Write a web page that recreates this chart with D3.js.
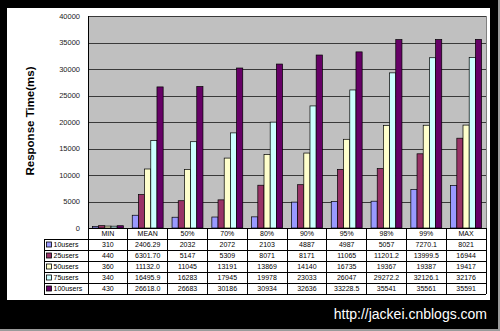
<!DOCTYPE html>
<html>
<head>
<meta charset="utf-8">
<script src="https://cdn.jsdelivr.net/npm/d3@7"></script>
<style>
  body { margin: 0; background: #000; }
  svg { display: block; }
</style>
</head>
<body>
<svg id="chart" width="500" height="331"></svg>
<script>
// percentile labels along the x axis / table header
const categories = ["MIN", "MEAN", "50%", "70%", "80%", "90%", "95%", "98%", "99%", "MAX"];
const seriesNames = ["10users", "25users", "50users", "75users", "100users"];

// values as printed in the data table
const users10 = ["310", "2406.29", "2032", "2072", "2103", "4887", "4987", "5057", "7270.1", "8021"];
const users25 = ["440", "6301.70", "5147", "5309", "8071", "8171", "11065", "11201.2", "13999.5", "16944"];
const users50 = ["360", "11132.0", "11045", "13191", "13869", "14140", "16735", "19367", "19387", "19417"];
const users75 = ["340", "16495.9", "16283", "17945", "19978", "23033", "26047", "29272.2", "32126.1", "32176"];
const users100 = ["430", "26618.0", "26683", "30186", "30934", "32636", "33228.5", "35541", "35561", "35591"];

const yTicks = [0, 5000, 10000, 15000, 20000, 25000, 30000, 35000, 40000];
const colors = ["#9999ff", "#993366", "#ffffcc", "#ccffff", "#660066"];

const seriesValues = [users10, users25, users50, users75, users100];
const series = seriesNames.map((name, i) => ({
    name: name,
    color: colors[i],
    labels: seriesValues[i],
    values: seriesValues[i].map(v => +v)
}));

const svg = d3.select("#chart");

// white panel inside the black frame
svg.append("rect")
    .attr("x", 7).attr("y", 8)
    .attr("width", 483).attr("height", 292)
    .attr("fill", "#fff");

// light edge of the screenshot frame
svg.append("rect").attr("x", 0).attr("y", 329).attr("width", 500).attr("height", 2).attr("fill", "#9a9a9a");
svg.append("rect").attr("x", 498).attr("y", 0).attr("width", 2).attr("height", 331).attr("fill", "#9a9a9a");

const plot = {left: 88, right: 486, top: 16, bottom: 228};

const x = d3.scaleBand()
    .domain(categories)
    .range([plot.left, plot.right]);

const xs = d3.scaleBand()
    .domain(seriesNames)
    .range([0, x.bandwidth()])
    .paddingOuter(0.72);

const y = d3.scaleLinear()
    .domain([0, 40000])
    .range([plot.bottom, plot.top]);

// plot background
svg.append("rect")
    .attr("x", plot.left).attr("y", plot.top)
    .attr("width", plot.right - plot.left)
    .attr("height", plot.bottom - plot.top)
    .attr("fill", "#c0c0c0");

// gridlines
svg.append("g")
    .selectAll("line")
    .data(yTicks)
    .join("line")
    .attr("x1", plot.left)
    .attr("x2", plot.right)
    .attr("y1", d => Math.round(y(d)) + 0.5)
    .attr("y2", d => Math.round(y(d)) + 0.5)
    .attr("stroke", "#3a3a3a")
    .attr("stroke-width", 1);

// right edge of plot
svg.append("line")
    .attr("x1", plot.right + 0.5).attr("x2", plot.right + 0.5)
    .attr("y1", plot.top).attr("y2", plot.bottom)
    .attr("stroke", "#808080");

// bars
const groups = svg.append("g")
    .selectAll("g")
    .data(series)
    .join("g")
    .attr("fill", d => d.color);

groups.selectAll("rect")
    .data(d => d.values.map((v, i) => ({cat: categories[i], value: v, name: d.name})))
    .join("rect")
    .attr("x", d => x(d.cat) + xs(d.name))
    .attr("y", d => y(d.value))
    .attr("width", xs.bandwidth())
    .attr("height", d => y(0) - y(d.value))
    .attr("stroke", "#000")
    .attr("stroke-width", 0.7);

// y axis
const yAxis = svg.append("g")
    .attr("transform", `translate(${plot.left},0)`)
    .call(d3.axisLeft(y)
        .tickValues(yTicks)
        .tickSize(0)
        .tickPadding(8)
        .tickFormat(d3.format("d")));

yAxis.select(".domain").remove();
yAxis.selectAll("text")
    .style("font-family", "'Liberation Sans', Arial, sans-serif")
    .style("font-size", "7.5px")
    .attr("fill", "#222");

svg.append("line")
    .attr("x1", plot.left + 0.5).attr("x2", plot.left + 0.5)
    .attr("y1", plot.top).attr("y2", plot.bottom)
    .attr("stroke", "#000");

svg.append("text")
    .attr("transform", `translate(30,121) rotate(-90)`)
    .attr("text-anchor", "middle")
    .attr("dominant-baseline", "central")
    .style("font-family", "'Liberation Sans', Arial, sans-serif")
    .style("font-size", "11.5px")
    .style("font-weight", "bold")
    .attr("fill", "#000")
    .text("Response Time(ms)");

// data table under the plot
const rows = d3.scaleBand()
    .domain(["header"].concat(seriesNames))
    .range([plot.bottom, 294]);

const legendLeft = 44;
const table = svg.append("g")
    .attr("stroke", "#000")
    .attr("stroke-width", 1)
    .attr("shape-rendering", "crispEdges");

// horizontal lines
rows.domain().forEach((r, i) => {
    const yy = rows(r);
    table.append("line")
        .attr("x1", i === 0 ? plot.left : legendLeft)
        .attr("x2", plot.right)
        .attr("y1", yy).attr("y2", yy);
});
table.append("line")
    .attr("x1", legendLeft).attr("x2", plot.right)
    .attr("y1", 294).attr("y2", 294);

// vertical lines
categories.concat(["end"]).forEach(c => {
    const xx = c === "end" ? plot.right : x(c);
    table.append("line")
        .attr("x1", xx).attr("x2", xx)
        .attr("y1", plot.bottom).attr("y2", 294);
});
table.append("line")
    .attr("x1", legendLeft).attr("x2", legendLeft)
    .attr("y1", rows(seriesNames[0])).attr("y2", 294);

const cellFont = "'Liberation Sans', Arial, sans-serif";

svg.append("g")
    .selectAll("text")
    .data(categories)
    .join("text")
    .attr("x", d => x(d) + x.bandwidth() / 2)
    .attr("y", rows("header") + rows.bandwidth() / 2 + 2.5)
    .attr("text-anchor", "middle")
    .style("font-family", cellFont)
    .style("font-size", "7px")
    .attr("fill", "#000")
    .text(d => d);

series.forEach(s => {
    const ry = rows(s.name);
    svg.append("g")
        .selectAll("text")
        .data(s.labels)
        .join("text")
        .attr("x", (d, i) => x(categories[i]) + x.bandwidth() / 2)
        .attr("y", ry + rows.bandwidth() / 2 + 2.5)
        .attr("text-anchor", "middle")
        .style("font-family", cellFont)
        .style("font-size", "7px")
        .attr("fill", "#000")
        .text(d => d);

    svg.append("rect")
        .attr("x", legendLeft + 2.5)
        .attr("y", ry + rows.bandwidth() / 2 - 2.5)
        .attr("width", 5)
        .attr("height", 5)
        .attr("fill", s.color)
        .attr("stroke", "#000")
        .attr("stroke-width", 0.8);

    svg.append("text")
        .attr("x", legendLeft + 9.5)
        .attr("y", ry + rows.bandwidth() / 2 + 2.5)
        .style("font-family", cellFont)
        .style("font-size", "7px")
        .attr("fill", "#000")
        .text(s.name);
});

// watermark
svg.append("text")
    .attr("x", 487)
    .attr("y", 319)
    .attr("text-anchor", "end")
    .style("font-family", "'Liberation Sans', Arial, sans-serif")
    .style("font-size", "14px")
    .attr("fill", "#fff")
    .text("http://jackei.cnblogs.com");
</script>
</body>
</html>
